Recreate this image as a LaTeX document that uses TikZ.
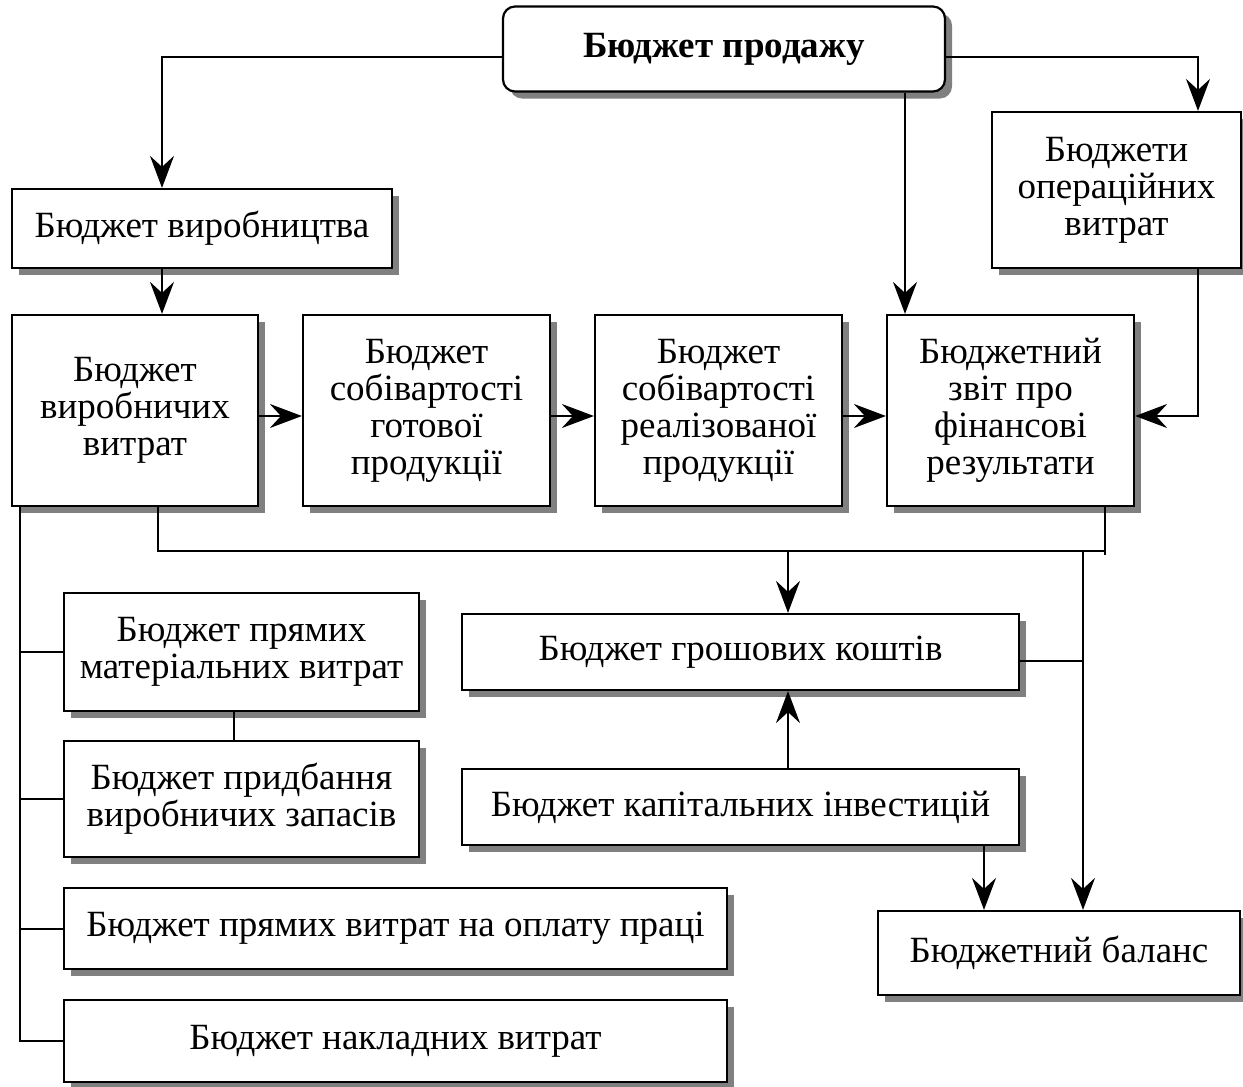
\documentclass[tikz,border=0pt]{standalone}
\usepackage{fontspec}
\setmainfont{Liberation Serif}
\usetikzlibrary{arrows.meta,shadows,calc}
\begin{document}
\begin{tikzpicture}[x=1pt,y=-1pt,
  box/.style={draw, line width=2.2pt, fill=white, inner sep=0pt, align=center,
    font=\fontsize{37}{37}\selectfont,
    general shadow={shadow xshift=7pt, shadow yshift=-7pt, fill=gray}},
  ln/.style={line width=2pt},
  arr/.style={line width=2pt, -{Stealth[length=32pt, width=24pt, inset=11pt]}}]
\useasboundingbox (0,0) rectangle (1243,1087);
% nodes
\node[box, rounded corners=12pt, minimum width=442pt, minimum height=85pt, font=\fontsize{37}{37}\selectfont\bfseries] (sales) at (724,49) {Бюджет продажу};
\node[box, minimum width=380pt, minimum height=79pt] (prod) at (202,228.5) {Бюджет виробництва};
\node[box, minimum width=249pt, minimum height=156pt] (opex) at (1116.5,190) {Бюджети\\операційних\\витрат};
\node[box, minimum width=246pt, minimum height=191pt] (pcost) at (135,410.5) {Бюджет\\виробничих\\витрат};
\node[box, minimum width=247pt, minimum height=191pt] (fin) at (426.5,410.5) {Бюджет\\собівартості\\готової\\продукції};
\node[box, minimum width=247pt, minimum height=191pt] (sold) at (718.5,410.5) {Бюджет\\собівартості\\реалізованої\\продукції};
\node[box, minimum width=247pt, minimum height=191pt] (fres) at (1010.5,410.5) {Бюджетний\\звіт про\\фінансові\\результати};
\node[box, minimum width=557pt, minimum height=76pt] (cash) at (740.5,652) {Бюджет грошових коштів};
\node[box, minimum width=557pt, minimum height=76pt] (capex) at (740.5,807) {Бюджет капітальних інвестицій};
\node[box, minimum width=362pt, minimum height=84pt] (bal) at (1059,953) {Бюджетний баланс};
\node[box, minimum width=355pt, minimum height=118pt] (mat) at (241.5,652) {Бюджет прямих\\матеріальних витрат};
\node[box, minimum width=355pt, minimum height=116pt] (purch) at (241.5,799) {Бюджет придбання\\виробничих запасів};
\node[box, minimum width=663pt, minimum height=81pt] (labor) at (395.5,928.5) {Бюджет прямих витрат на оплату праці};
\node[box, minimum width=663pt, minimum height=82pt] (ovh) at (395.5,1041) {Бюджет накладних витрат};
% helper coordinates
\coordinate (y57) at (0,57);
\coordinate (y416) at (0,416);
\coordinate (y551) at (0,551);
\coordinate (y555) at (0,555);
\coordinate (y661) at (0,661);
\coordinate (x20) at (20,0);
\coordinate (x158) at (158,0);
\coordinate (x162) at (162,0);
\coordinate (x234) at (234,0);
\coordinate (x788) at (788,0);
\coordinate (x905) at (905,0);
\coordinate (x984) at (984,0);
\coordinate (x1083) at (1083,0);
\coordinate (x1105) at (1105,0);
\coordinate (x1198) at (1198,0);
% connectors
\draw[arr] (sales.west |- y57) -| (prod.north -| x162);
\draw[arr] (sales.east |- y57) -| (opex.north -| x1198);
\draw[arr] (sales.south -| x905) -- (fres.north -| x905);
\draw[arr] (prod.south -| x162) -- (pcost.north -| x162);
\draw[arr] (pcost.east |- y416) -- (fin.west |- y416);
\draw[arr] (fin.east |- y416) -- (sold.west |- y416);
\draw[arr] (sold.east |- y416) -- (fres.west |- y416);
\draw[arr] (opex.south -| x1198) |- (fres.east |- y416);
\draw[ln] (pcost.south -| x158) |- (x1105 |- y551);
\draw[ln] (fres.south -| x1105) -- (x1105 |- y555);
\draw[arr] (x788 |- y551) -- (cash.north -| x788);
\draw[arr] (x1083 |- y551) -- (bal.north -| x1083);
\draw[ln] (cash.east |- y661) -- (x1083 |- y661);
\draw[arr] (capex.north -| x788) -- (cash.south -| x788);
\draw[arr] (capex.south -| x984) -- (bal.north -| x984);
\draw[ln] (pcost.south -| x20) |- (ovh.west);
\draw[ln] (x20 |- mat.west) -- (mat.west);
\draw[ln] (x20 |- purch.west) -- (purch.west);
\draw[ln] (x20 |- labor.west) -- (labor.west);
\draw[ln] (mat.south -| x234) -- (purch.north -| x234);
\end{tikzpicture}
\end{document}
